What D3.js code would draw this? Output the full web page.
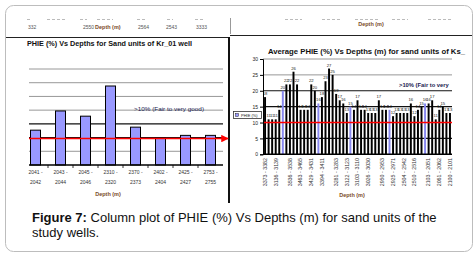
<!DOCTYPE html>
<html><head><meta charset="utf-8">
<script src="https://cdn.jsdelivr.net/npm/d3@7/dist/d3.min.js"></script>
<style>body{margin:0;background:#fff}svg{display:block}text{font-family:"Liberation Sans",Arial,sans-serif}</style>
</head><body>
<svg id="c" width="476" height="256"></svg>
<script>
// ---- data ----
const leftCats = ["2041 - 2042","2043 - 2044","2045 - 2046","2310 - 2320","2370 - 2373","2402 - 2404","2425 - 2427","2753 - 2755"];
const leftVals = [12.7, 19.7, 17.8, 28.8, 13.8, 9.8, 10.8, 10.8];
const leftTicks = [5,10,15,20,25,30,35];
const rightVals = [18,11,11,11,14,20,22,22,26,22,14,14,14,22,20,16,18,23,27,25,19,17,16,13,15,14,17,14,14,13,13,13,17,14,14,14,12,13,13,13,13,16,12,14,15,16,16,17,11,14,15,13,13];
const rightLabels = ["3373 - 3382","3136 - 3139","3536 - 3538","3463 - 3465","3429 - 3431","3394 - 3411","3281 - 3283","3122 - 3123","3103 - 3110","3026 - 3030","2950 - 2953","2925 - 2971","2504 - 2542","2510 - 2516","2103 - 2051","2061 - 2062","2100 - 2101"];
const rightTicks = [0,5,10,15,20,25,30];
const topLeftLabels = [["332",28],["2550",83],["2564",138],["2543",166],["3333",196]];

const svg = d3.select("#c");
svg.append("rect").attr("x",5.5).attr("y",5.5).attr("width",467).attr("height",246).attr("rx",8)
  .attr("fill","none").attr("stroke","#bdbdbd").attr("stroke-width",1);

// top remnants
const dashXs = [[27,30],[47,67],[80,87],[97,113],[137,147],[167,173],[195,203],[285,302],[322,342],[355,378],[392,408],[428,452]];
dashXs.forEach(d=>svg.append("line").attr("x1",d[0]).attr("x2",d[1]).attr("y1",19.5).attr("y2",19.5)
  .attr("stroke","#aaa").attr("stroke-width",0.8).attr("stroke-dasharray","3,2"));
topLeftLabels.forEach(d=>svg.append("text").attr("x",d[1]).attr("y",28.5).attr("font-size",5).attr("fill","#555").text(d[0]));
svg.append("text").attr("x",95).attr("y",28.5).attr("font-size",5.5).attr("font-weight","bold").attr("fill","#7a4a2a").text("Depth (m)");
svg.append("text").attr("x",371).attr("y",26).attr("text-anchor","middle").attr("font-size",5.5).attr("font-weight","bold").attr("fill","#7a4a2a").text("Depth (m)");
svg.append("line").attr("x1",230.5).attr("x2",230.5).attr("y1",18).attr("y2",34).attr("stroke","#999").attr("stroke-width",1);
svg.append("line").attr("x1",230).attr("x2",472).attr("y1",35.5).attr("y2",35.5).attr("stroke","#222").attr("stroke-width",1);
svg.append("line").attr("x1",6).attr("x2",229).attr("y1",37.5).attr("y2",37.5).attr("stroke","#222").attr("stroke-width",1);
svg.append("line").attr("x1",229).attr("x2",229).attr("y1",37).attr("y2",203).attr("stroke","#111").attr("stroke-width",2);

// ---- left chart ----
const xL = d3.scaleBand().domain(leftCats).range([23,223]).paddingInner(0.6).paddingOuter(0.3);
const yL = d3.scaleLinear().domain([0,35]).range([165,69]);
svg.append("text").attr("x",27).attr("y",45.5).attr("font-size",6.8).attr("font-weight","bold").attr("fill","#111")
  .attr("textLength",165).attr("lengthAdjust","spacingAndGlyphs")
  .text("PHIE (%) Vs Depths for Sand units of Kr_01 well");
const gL = svg.append("g");
gL.selectAll("line.g").data(leftTicks).join("line")
  .attr("x1",29).attr("x2",223).attr("y1",d=>yL(d)).attr("y2",d=>yL(d))
  .attr("stroke",d=>(d===10||d===15)?"#111":"#8c8c8c").attr("stroke-width",d=>(d===10||d===15)?1.2:0.9);
gL.selectAll("rect").data(leftVals).join("rect")
  .attr("x",(d,i)=>xL(leftCats[i])).attr("width",xL.bandwidth())
  .attr("y",d=>yL(d)).attr("height",d=>yL(0)-yL(d))
  .attr("fill","#9999ff").attr("stroke","#000").attr("stroke-width",1);
gL.append("line").attr("x1",29).attr("x2",223).attr("y1",yL(0)).attr("y2",yL(0)).attr("stroke","#000").attr("stroke-width",1.5);
d3.range(1,leftCats.length).forEach(i=>{
  const x = xL(leftCats[i]) - xL.step()*xL.paddingInner()/2;
  gL.append("line").attr("x1",x).attr("x2",x).attr("y1",yL(0)).attr("y2",yL(0)+3).attr("stroke","#000").attr("stroke-width",0.8);
});
leftCats.forEach((c,i)=>{
  const parts = c.split(" - ");
  const cx = xL(c)+xL.bandwidth()/2;
  gL.append("text").attr("x",cx).attr("y",174).attr("text-anchor","middle").attr("font-size",5).attr("fill","#333").text(parts[0]+" -");
  gL.append("text").attr("x",cx).attr("y",184).attr("text-anchor","middle").attr("font-size",5).attr("fill","#333").text(parts[1]);
});
gL.append("text").attr("x",108).attr("y",196).attr("text-anchor","middle").attr("font-size",5.5).attr("font-weight","bold").attr("fill","#7a4a2a").text("Depth (m)");
gL.append("text").attr("x",134).attr("y",111).attr("font-size",6).attr("fill","#1a1a50")
  .attr("textLength",70).attr("lengthAdjust","spacingAndGlyphs").text(">10% (Fair to very good)");
svg.append("defs").append("marker").attr("id","arr").attr("viewBox","0 0 10 10").attr("refX",9).attr("refY",5)
  .attr("markerWidth",5).attr("markerHeight",5).attr("orient","auto")
  .append("path").attr("d","M0,0L10,5L0,10Z").attr("fill","#ff0000");
svg.append("line").attr("x1",29).attr("x2",228).attr("y1",yL(10)+1).attr("y2",yL(10)+1)
  .attr("stroke","#ff0000").attr("stroke-width",1.5).attr("marker-end","url(#arr)");

// legend
svg.append("rect").attr("x",233.5).attr("y",111.5).attr("width",28).attr("height",7).attr("fill","#fff").attr("stroke","#333").attr("stroke-width",0.8);
svg.append("rect").attr("x",235.5).attr("y",113.5).attr("width",3).attr("height",3).attr("fill","#9999ff").attr("stroke","#000").attr("stroke-width",0.4);
svg.append("text").attr("x",241).attr("y",116.8).attr("font-size",4).attr("fill","#222").text("PHIE (%)");

// ---- right chart ----
const xR = d3.scaleBand().domain(d3.range(rightVals.length)).range([263,452]).paddingInner(0.45).paddingOuter(0.3);
const yR = d3.scaleLinear().domain([0,30]).range([154.3,59]);
svg.append("text").attr("x",268).attr("y",53.5).attr("font-size",7).attr("font-weight","bold").attr("fill","#111")
  .attr("textLength",197).attr("lengthAdjust","spacingAndGlyphs")
  .text("Average PHIE (%) Vs Depths (m) for sand units of Ks_");
const gR = svg.append("g");
gR.selectAll("line.g").data(rightTicks.filter(d=>d>0)).join("line")
  .attr("x1",263).attr("x2",452).attr("y1",d=>yR(d)).attr("y2",d=>yR(d))
  .attr("stroke",d=>(d===5||d===15||d===20)?"#111":"#8c8c8c").attr("stroke-width",d=>(d===5||d===15||d===20)?1.2:0.9);
const blueIdx = [5,15,24,35,45];
gR.selectAll("rect").data(rightVals).join("rect")
  .attr("x",(d,i)=>xR(i)).attr("width",xR.bandwidth())
  .attr("y",d=>yR(d)).attr("height",d=>yR(0)-yR(d))
  .attr("fill",(d,i)=>blueIdx.includes(i)?"#8888ee":"#000");
gR.selectAll("text.v").data(rightVals).join("text").attr("class","v")
  .attr("x",(d,i)=>xR(i)+xR.bandwidth()/2).attr("y",d=>yR(d)-2)
  .attr("text-anchor","middle").attr("font-size",4.2).attr("fill","#222").text(d=>d);
gR.append("line").attr("x1",263).attr("x2",452).attr("y1",yR(10)).attr("y2",yR(10)).attr("stroke","#ff0000").attr("stroke-width",1.6);
const yAx = d3.axisLeft(yR).tickValues(rightTicks).tickSize(3).tickPadding(2);
const ya = svg.append("g").attr("transform","translate(263,0)").call(yAx);
ya.select(".domain").attr("stroke","#000");
ya.selectAll("text").attr("font-size",5).attr("fill","#222").attr("font-family","Liberation Sans, Arial");
gR.append("line").attr("x1",263).attr("x2",452).attr("y1",yR(0)).attr("y2",yR(0)).attr("stroke","#000").attr("stroke-width",1.5);
const nR = rightVals.length;
rightLabels.forEach((lab,k)=>{
  const i = Math.round(k*(nR-1)/(rightLabels.length-1));
  const cx = xR(i)+xR.bandwidth()/2;
  gR.append("text").attr("transform",`translate(${cx+1.8},158) rotate(-90)`).attr("text-anchor","end")
    .attr("font-size",5.3).attr("fill","#333").text(lab);
});
gR.append("text").attr("x",352).attr("y",197).attr("text-anchor","middle").attr("font-size",5.5).attr("font-weight","bold").attr("fill","#7a4a2a").text("Depth (m)");
gR.append("text").attr("x",399).attr("y",87).attr("font-size",5.8).attr("font-weight","bold").attr("fill","#1a1a50").text(">10% (Fair to very");

// caption
const cap = svg.append("text").attr("font-size",13).attr("fill","#111");
cap.append("tspan").attr("x",32).attr("y",222).attr("font-weight","bold").text("Figure 7:");
cap.append("tspan").text(" Column plot of PHIE (%) Vs Depths (m) for sand units of the");
cap.append("tspan").attr("x",32).attr("y",237).text("study wells.");
</script>
</body></html>
